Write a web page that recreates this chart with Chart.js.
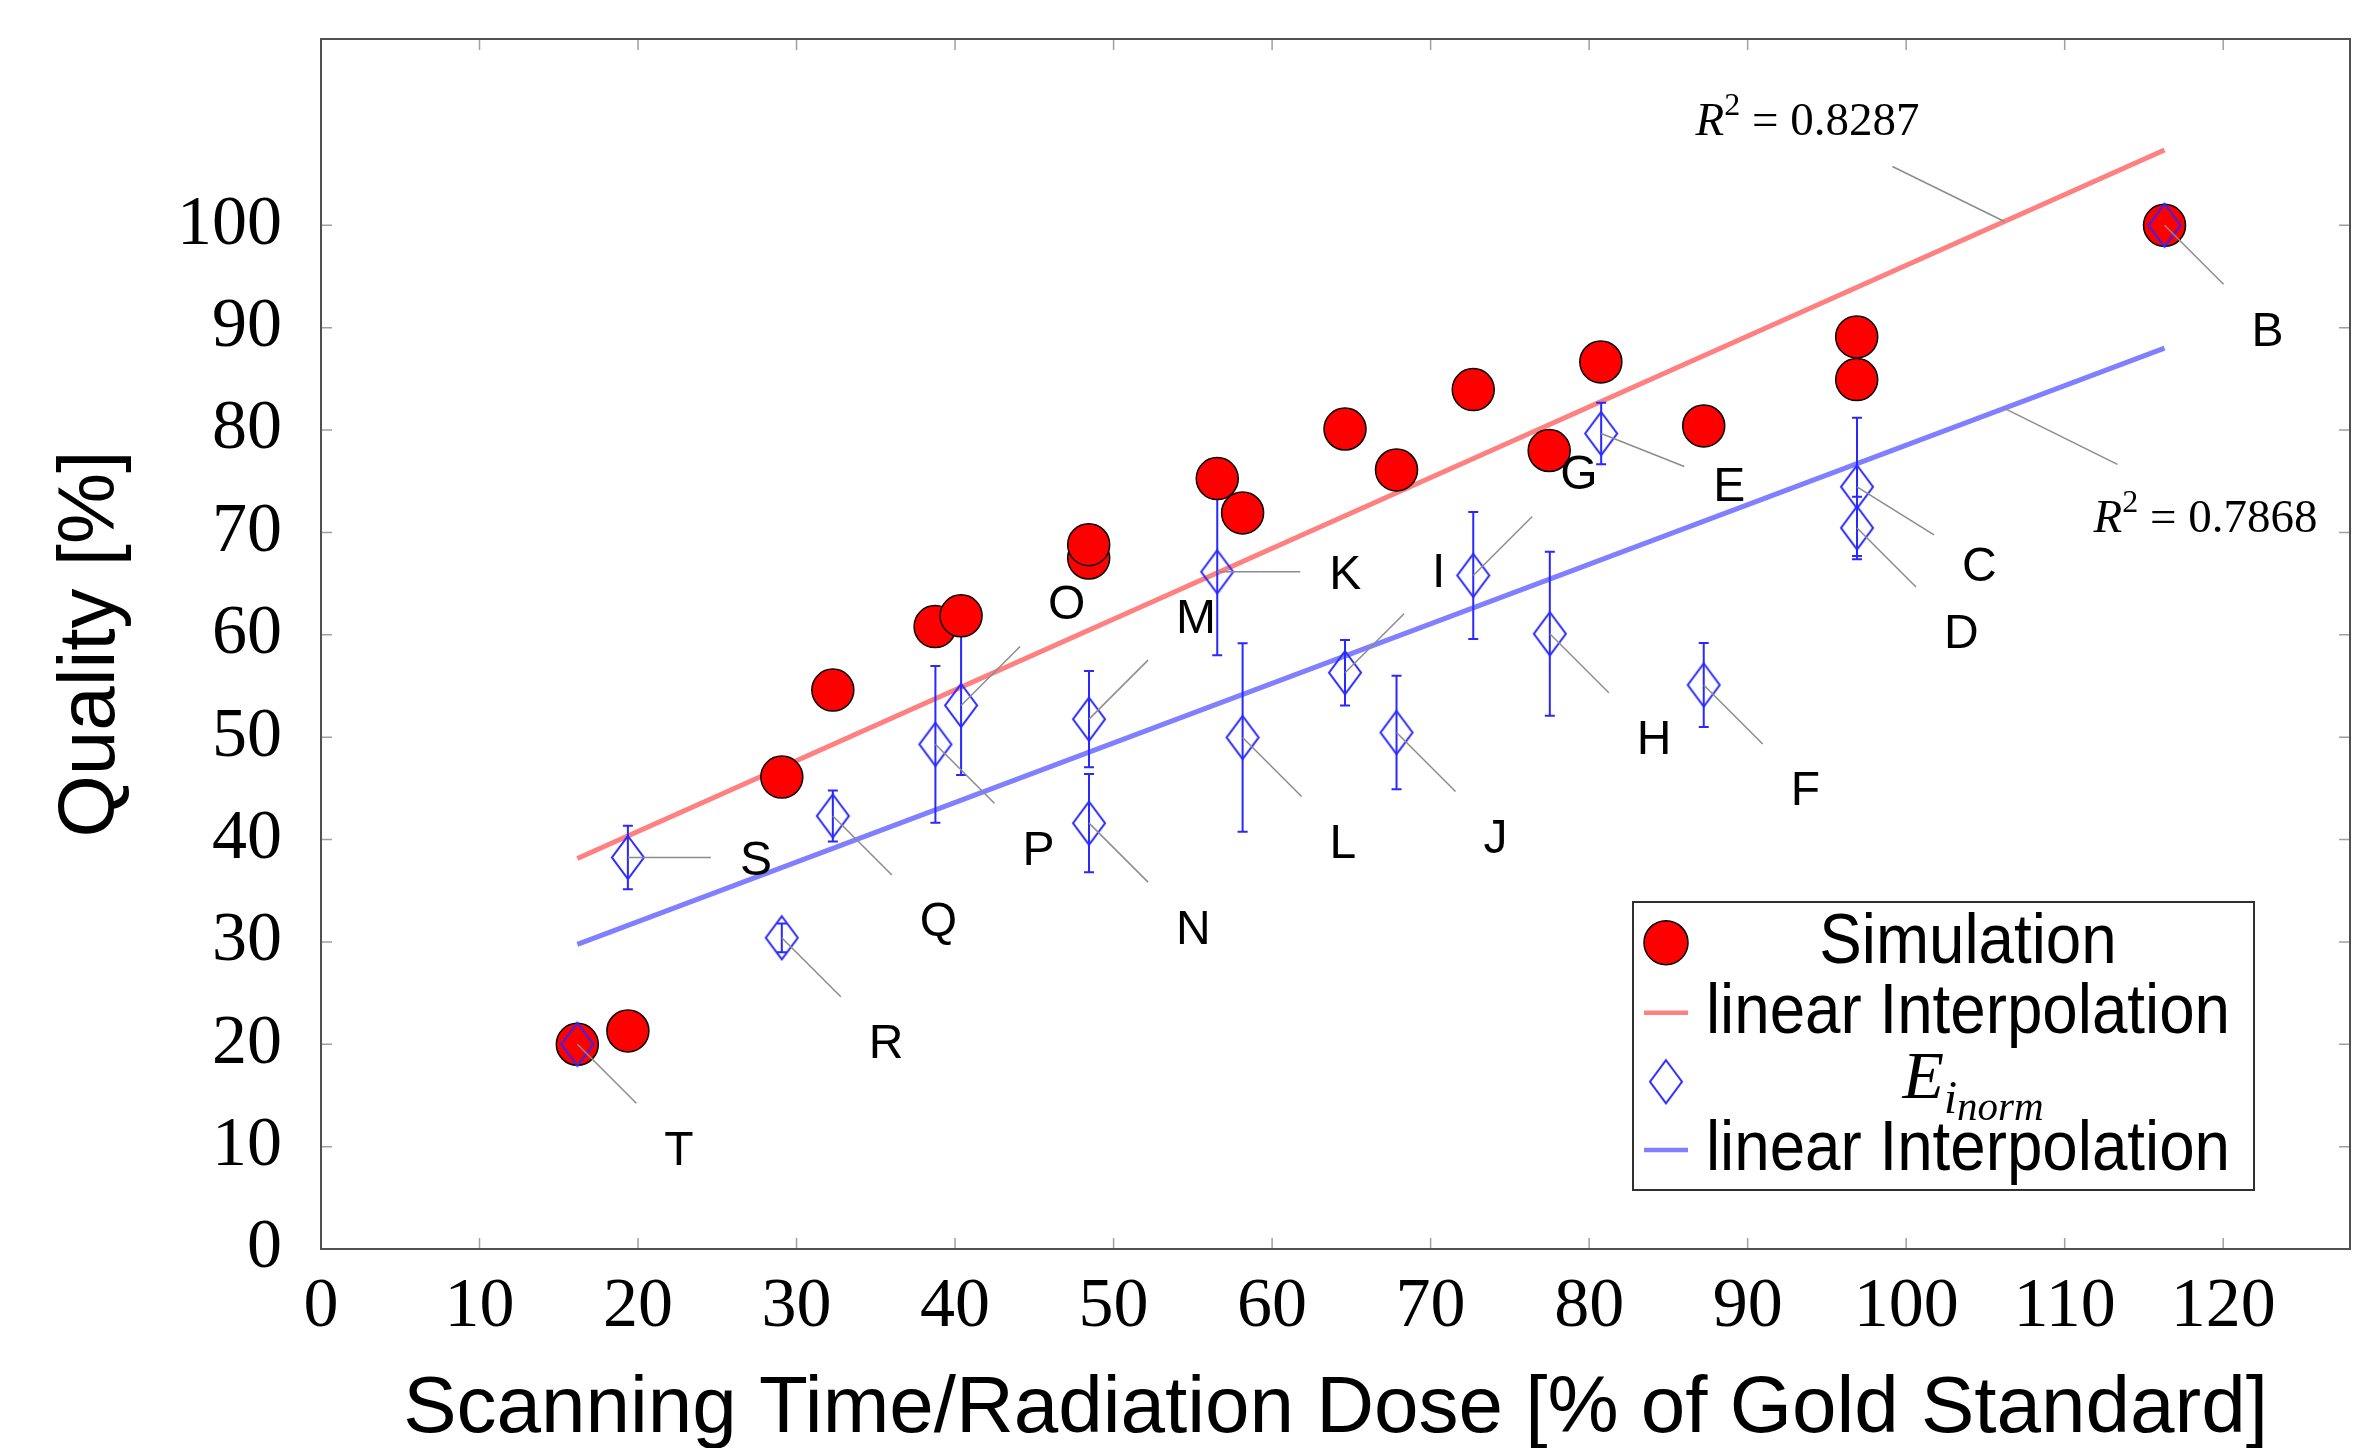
<!DOCTYPE html>
<html>
<head>
<meta charset="utf-8">
<title>Quality vs Scanning Time / Radiation Dose</title>
<script src="https://cdn.jsdelivr.net/npm/chart.js@4.4.1/dist/chart.umd.min.js"></script>
<style>
  html, body { margin: 0; padding: 0; background: #fff; overflow: hidden; }
  /* 8px wider than the window: Chart.js keeps a 23px margin for the 21px markers */
  #wrap { width: 2373px; height: 1448px; position: relative; }
  #wrap canvas { display: block; }
</style>
</head>
<body>
<div id="wrap"><canvas id="qualityChart"></canvas></div>
<script>
// --- values ---
const xTicks = [0, 10, 20, 30, 40, 50, 60, 70, 80, 90, 100, 110, 120];
const yTicks = [0, 10, 20, 30, 40, 50, 60, 70, 80, 90, 100];

// Simulation (red circles)
const simX = [16.17, 19.36, 29.07, 32.29, 38.74, 40.38, 48.43, 48.43, 56.54, 58.14, 64.6, 67.85, 72.69, 77.48, 80.74, 87.23, 96.88, 96.88, 116.3];
const simY = [20.0, 21.3, 46.1, 54.6, 60.8, 61.85, 67.5, 68.8, 75.26, 71.9, 80.1, 76.1, 83.95, 78.0, 86.65, 80.4, 84.93, 89.1, 100.0];

// E_i_norm (blue diamonds) with error bars, labelled B..T
const eiNames = ['B', 'C', 'D', 'E', 'F', 'G', 'H', 'I', 'J', 'K', 'L', 'M', 'N', 'O', 'P', 'Q', 'R', 'S', 'T'];
const eiX = [116.3, 96.9, 96.9, 80.76, 87.23, 72.69, 77.52, 64.6, 67.85, 56.54, 58.14, 48.45, 48.45, 40.38, 38.76, 32.29, 29.07, 19.36, 16.17];
const eiY = [100.0, 74.45, 70.44, 79.66, 55.1, 65.8, 60.1, 56.3, 50.45, 66.15, 49.97, 51.76, 41.6, 53.1, 49.3, 42.3, 30.4, 38.25, 20.0];
const eiErr = [0, 6.75, 3.05, 3.0, 4.1, 6.2, 8.0, 3.2, 5.55, 8.15, 9.2, 4.7, 4.8, 6.8, 7.65, 2.5, 1.4, 3.1, 0];

// linear fits (end points)
const fitX = [16.17, 116.3];
const fitSimY = [38.15, 107.35];
const fitEiY = [29.75, 88.0];
const r2Values = ['0.8287', '0.7868'];
const r2AtX = 106.2;

const sansFamily = '"Liberation Sans", Arial, sans-serif';
const serifFamily = '"Liberation Serif", "Times New Roman", serif';

// diamond marker, taller than wide like the original
function makeDiamond(w, h, color, lw) {
    const c = document.createElement('canvas');
    c.width = w + 2 * lw;
    c.height = h + 2 * lw;
    const g = c.getContext('2d');
    g.strokeStyle = color;
    g.lineWidth = lw;
    g.beginPath();
    g.moveTo(c.width / 2, lw);
    g.lineTo(c.width - lw, c.height / 2);
    g.lineTo(c.width / 2, c.height - lw);
    g.lineTo(lw, c.height / 2);
    g.closePath();
    g.stroke();
    return c;
}
const diamond = makeDiamond(32, 43, 'rgb(40,40,255)', 2);

// where each letter sits relative to its diamond
const pinDir = { B: 'se', C: 'c', D: 'se', E: 'ee', F: 'se', G: 'ne', H: 'se', I: 'ne', J: 'se', K: 'e',
                 L: 'se', M: 'ne', N: 'se', O: 'ne', P: 'se', Q: 'se', R: 'se', S: 'e', T: 'se' };
const pinGeom = {
    e:  { lx: 83, ly: 0,   tx: 112, ty: 0,   v: 'middle' },
    ne: { lx: 59, ly: -59, tx: 87,  ty: -86, v: 'bottom' },
    se: { lx: 59, ly: 59,  tx: 87,  ty: 86,  v: 'top' },
    c:  { lx: 77, ly: 48,  tx: 105, ty: 60,  v: 'top' },
    ee: { lx: 83, ly: 33,  tx: 112, ty: 33,  v: 'top' }
};
const r2Geom = [
    { lx: -112, ly: -55, tx: -197, ty: -87 },
    { lx: 113,  ly: 56,  tx: 201,  ty: 124 }
];

const whiteBg = {
    id: 'whiteBg',
    beforeDraw(chart) {
        const { ctx, width, height } = chart;
        ctx.save();
        ctx.fillStyle = '#fff';
        ctx.fillRect(0, 0, width, height);
        ctx.restore();
    }
};

// pgfplots-like box with inward ticks on all four sides
const frameTicks = {
    id: 'frameTicks',
    beforeDatasetsDraw(chart) {
        const { ctx, chartArea: a, scales: { x, y } } = chart;
        const t = 11;
        ctx.save();
        ctx.strokeStyle = '#a0a0a0';
        ctx.lineWidth = 1.5;
        ctx.beginPath();
        xTicks.forEach(v => {
            const px = x.getPixelForValue(v);
            ctx.moveTo(px, a.bottom); ctx.lineTo(px, a.bottom - t);
            ctx.moveTo(px, a.top); ctx.lineTo(px, a.top + t);
        });
        yTicks.forEach(v => {
            const py = y.getPixelForValue(v);
            ctx.moveTo(a.left, py); ctx.lineTo(a.left + t, py);
            ctx.moveTo(a.right, py); ctx.lineTo(a.right - t, py);
        });
        ctx.stroke();
        ctx.strokeStyle = '#505050';
        ctx.lineWidth = 2;
        ctx.strokeRect(a.left, a.top, a.right - a.left, a.bottom - a.top);
        ctx.restore();
    }
};

// error bars go above the fit lines but under the circles
const errorBars = {
    id: 'errorBars',
    beforeDatasetDraw(chart, args) {
        if (args.index !== 0) return;
        const { ctx } = chart;
        const y = chart.scales.y;
        const pts = chart.getDatasetMeta(2).data;
        ctx.save();
        ctx.strokeStyle = 'rgb(40,40,255)';
        ctx.lineWidth = 2;
        ctx.beginPath();
        pts.forEach((p, i) => {
            const e = eiErr[i];
            if (!e) return;
            const top = y.getPixelForValue(eiY[i] + e);
            const bot = y.getPixelForValue(eiY[i] - e);
            ctx.moveTo(p.x, top); ctx.lineTo(p.x, bot);
            ctx.moveTo(p.x - 5, top); ctx.lineTo(p.x + 5, top);
            ctx.moveTo(p.x - 5, bot); ctx.lineTo(p.x + 5, bot);
        });
        ctx.stroke();
        ctx.restore();
    }
};

const pins = {
    id: 'pins',
    afterDatasetsDraw(chart) {
        const { ctx } = chart;
        const pts = chart.getDatasetMeta(2).data;
        ctx.save();
        ctx.strokeStyle = '#8c8c8c';
        ctx.lineWidth = 1.5;
        ctx.fillStyle = '#000';
        ctx.font = '48px ' + sansFamily;
        ctx.textAlign = 'left';
        ctx.textBaseline = 'alphabetic';
        const cap = 0.716 * 48;
        pts.forEach((p, i) => {
            const g = pinGeom[pinDir[eiNames[i]]];
            ctx.beginPath();
            ctx.moveTo(p.x, p.y);
            ctx.lineTo(p.x + g.lx, p.y + g.ly);
            ctx.stroke();
            let base;
            if (g.v === 'top') base = p.y + g.ty + cap;
            else if (g.v === 'bottom') base = p.y + g.ty;
            else base = p.y + cap / 2;
            ctx.fillText(eiNames[i], p.x + g.tx, base);
        });

        // R^2 annotations on the two fits
        [1, 3].forEach((dsIndex, k) => {
            const d = chart.getDatasetMeta(dsIndex).data;
            const ax = chart.scales.x.getPixelForValue(r2AtX);
            const t = (ax - d[0].x) / (d[1].x - d[0].x);
            const ay = d[0].y + t * (d[1].y - d[0].y);
            const g = r2Geom[k];
            ctx.beginPath();
            ctx.moveTo(ax, ay);
            ctx.lineTo(ax + g.lx, ay + g.ly);
            ctx.stroke();
            const parts = [
                { s: 'R', f: 'italic 47px ' + serifFamily, dy: 0 },
                { s: '2', f: '32px ' + serifFamily, dy: -20 },
                { s: ' = ' + r2Values[k], f: '47px ' + serifFamily, dy: 0 }
            ];
            let total = 0;
            parts.forEach(pt => { ctx.font = pt.f; pt.w = ctx.measureText(pt.s).width; total += pt.w; });
            let cx = ax + g.tx - total / 2;
            parts.forEach(pt => {
                ctx.font = pt.f;
                ctx.fillText(pt.s, cx, ay + g.ty + pt.dy);
                cx += pt.w;
            });
        });
        ctx.restore();
    }
};

const legendBox = {
    id: 'legendBox',
    afterDraw(chart) {
        const { ctx, chartArea: a } = chart;
        const w = 621, h = 288;
        const left = a.right - 96 - w;
        const top = a.bottom - 59 - h;
        const rows = [40.7, 110.7, 179.7, 248];
        const mx = left + 33, tx = left + 335;
        ctx.save();
        ctx.fillStyle = '#fff';
        ctx.fillRect(left, top, w, h);
        ctx.strokeStyle = '#303030';
        ctx.lineWidth = 2;
        ctx.strokeRect(left, top, w, h);
        chart.data.datasets.forEach((ds, i) => {
            const cy = top + rows[i];
            if (ds.type === 'line') {
                ctx.strokeStyle = ds.borderColor;
                ctx.lineWidth = 4.5;
                ctx.beginPath();
                ctx.moveTo(mx - 22, cy);
                ctx.lineTo(mx + 22, cy);
                ctx.stroke();
            } else if (ds.pointStyle === 'circle') {
                ctx.beginPath();
                ctx.arc(mx, cy, 22, 0, Math.PI * 2);
                ctx.fillStyle = ds.pointBackgroundColor;
                ctx.fill();
                ctx.strokeStyle = ds.pointBorderColor;
                ctx.lineWidth = 1.5;
                ctx.stroke();
            } else {
                ctx.drawImage(diamond, mx - diamond.width / 2, cy - diamond.height / 2);
            }
            ctx.fillStyle = '#000';
            ctx.textBaseline = 'alphabetic';
            if (i === 2) {
                // E_{i_{norm}}
                const parts = [
                    { s: 'E', f: 'italic 68px ' + serifFamily, dy: 16 },
                    { s: 'i', f: 'italic 47px ' + serifFamily, dy: 31 },
                    { s: 'norm', f: 'italic 41px ' + serifFamily, dy: 38 }
                ];
                ctx.textAlign = 'left';
                let total = 0;
                parts.forEach(pt => { ctx.font = pt.f; pt.w = ctx.measureText(pt.s).width; total += pt.w; });
                let cx = tx - total / 2 + 5;
                parts.forEach(pt => {
                    ctx.font = pt.f;
                    ctx.fillText(pt.s, cx, cy + pt.dy);
                    cx += pt.w;
                });
            } else {
                ctx.font = '70px ' + sansFamily;
                ctx.textAlign = 'center';
                const mw = ctx.measureText(ds.label).width * 0.91;
                ctx.fillText(ds.label, tx, cy + 20, mw);
            }
        });
        ctx.restore();
    }
};

const ctx = document.getElementById('qualityChart');
new Chart(ctx, {
    type: 'scatter',
    data: {
        datasets: [
            {
                label: 'Simulation',
                data: simX.map((x, i) => ({ x: x, y: simY[i] })),
                pointStyle: 'circle',
                pointRadius: 21,
                pointBackgroundColor: '#ff0000',
                pointBorderColor: '#000000',
                pointBorderWidth: 1.5,
                order: 1
            },
            {
                type: 'line',
                label: 'linear Interpolation',
                data: fitX.map((x, i) => ({ x: x, y: fitSimY[i] })),
                borderColor: 'rgb(255,128,128)',
                borderWidth: 5,
                pointRadius: 0,
                fill: false,
                order: 2
            },
            {
                label: 'E_i_norm',
                data: eiX.map((x, i) => ({ x: x, y: eiY[i] })),
                pointStyle: diamond,
                pointRadius: 21,
                order: 0
            },
            {
                type: 'line',
                label: 'linear Interpolation',
                data: fitX.map((x, i) => ({ x: x, y: fitEiY[i] })),
                borderColor: 'rgb(128,128,255)',
                borderWidth: 5,
                pointRadius: 0,
                fill: false,
                order: 3
            }
        ]
    },
    options: {
        responsive: true,
        maintainAspectRatio: false,
        animation: false,
        events: [],
        layout: { padding: { top: 39, right: 23, left: 0, bottom: 0 } },
        plugins: {
            legend: { display: false },
            tooltip: { enabled: false }
        },
        scales: {
            x: {
                type: 'linear',
                min: 0,
                max: 128,
                afterBuildTicks: s => { s.ticks = xTicks.map(v => ({ value: v })); },
                afterFit: s => { s.height = 199; s.paddingLeft = 0; s.paddingRight = 0; },
                grid: { display: false },
                border: { display: false },
                ticks: {
                    autoSkip: false,
                    maxRotation: 0,
                    padding: 9,
                    color: '#000',
                    font: { family: serifFamily, size: 70 }
                },
                title: {
                    display: true,
                    text: 'Scanning Time/Radiation Dose [% of Gold Standard]',
                    color: '#000',
                    font: { family: sansFamily, size: 80, lineHeight: 1 },
                    padding: { top: 0, bottom: -2 }
                }
            },
            y: {
                type: 'linear',
                min: 0,
                max: 118.2,
                afterBuildTicks: s => { s.ticks = yTicks.map(v => ({ value: v })); },
                afterFit: s => { s.width = 321; s.paddingTop = 0; s.paddingBottom = 0; },
                grid: { display: false },
                border: { display: false },
                ticks: {
                    autoSkip: false,
                    padding: 31,
                    color: '#000',
                    font: { family: serifFamily, size: 70 }
                },
                title: {
                    display: true,
                    text: 'Quality [%]',
                    color: '#000',
                    font: { family: sansFamily, size: 80, lineHeight: 1 },
                    padding: { top: 52, bottom: 0 }
                }
            }
        }
    },
    plugins: [whiteBg, frameTicks, errorBars, pins, legendBox]
});
</script>
</body>
</html>
